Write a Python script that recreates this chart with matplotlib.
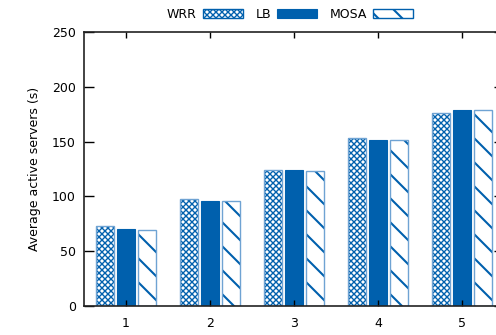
import matplotlib
matplotlib.use("Agg")
import matplotlib.pyplot as plt
import numpy as np

categories = ["1", "2", "3", "4", "5"]
series_names = ["WRR", "LB", "MOSA"]
wrr = [73.0, 97.7, 124.4, 153.2, 176.5]
lb = [70.5, 95.9, 124.4, 151.4, 178.9]
mosa = [69.3, 95.6, 123.6, 151.1, 178.9]
yticks = [0, 50, 100, 150, 200, 250]

DPI = 72
S = 100 / 72  # scale so sizes match a 100-dpi look
blue = "#0060ad"
light = "#6fa3d3"
plt.rcParams["font.family"] = ["DejaVu Sans"]

fig = plt.figure(figsize=(496 / DPI, 335 / DPI), dpi=DPI)
ax = fig.add_axes([84/496, 29/335, 420/496, 274/335])

x = np.arange(1, len(categories) + 1)
w = 0.21
off = 0.25
with plt.rc_context({"hatch.linewidth": 1.0 * S}):
    b1 = ax.bar(x - off, wrr, w, facecolor="white", edgecolor=blue, hatch="xxxx", linewidth=0, label=series_names[0])
ax.bar(x - off, wrr, w, fill=False, edgecolor=light, linewidth=1.0 * S)
ax.bar(x, lb, w, facecolor=blue, edgecolor=blue, linewidth=0.8 * S, label=series_names[1])
with plt.rc_context({"hatch.linewidth": 1.5 * S}):
    b3 = ax.bar(x + off, mosa, w, facecolor="white", edgecolor=blue, hatch="\\", linewidth=0, label=series_names[2])
ax.bar(x + off, mosa, w, fill=False, edgecolor=light, linewidth=1.0 * S)

ax.set_xlim(0.5, 5.5)
ax.set_ylim(0, 250)
ax.set_xticks(x)
ax.set_xticklabels(categories)
ax.set_yticks(yticks)
ax.tick_params(axis="both", direction="in", labelsize=9 * S, width=1.0 * S, color="black")
ax.tick_params(axis="y", length=7 * S, pad=6 * S, right=True)
ax.tick_params(axis="x", length=4 * S, pad=8 * S, top=True)
for s in ax.spines.values():
    s.set_linewidth(1.2 * S)
    s.set_color("#222222")
ax.set_ylabel("Average active servers (s)", fontsize=9 * S, labelpad=8 * S)

leg = fig.legend(loc="center", bbox_to_anchor=(0.585, 0.958), ncol=3, frameon=False,
                 markerfirst=False, fontsize=9 * S, handlelength=3.2, handleheight=0.75,
                 handletextpad=0.5, columnspacing=1.0, borderpad=0)
for h, hw in zip(leg.legend_handles, [1.0 * S, None, 1.5 * S]):
    if h.get_hatch():
        h.set_linewidth(1.0 * S)
        h.set_edgecolor(blue)
        if hasattr(h, "set_hatch_linewidth"):
            h.set_hatch_linewidth(hw)

fig.savefig("out.png", dpi=DPI)
